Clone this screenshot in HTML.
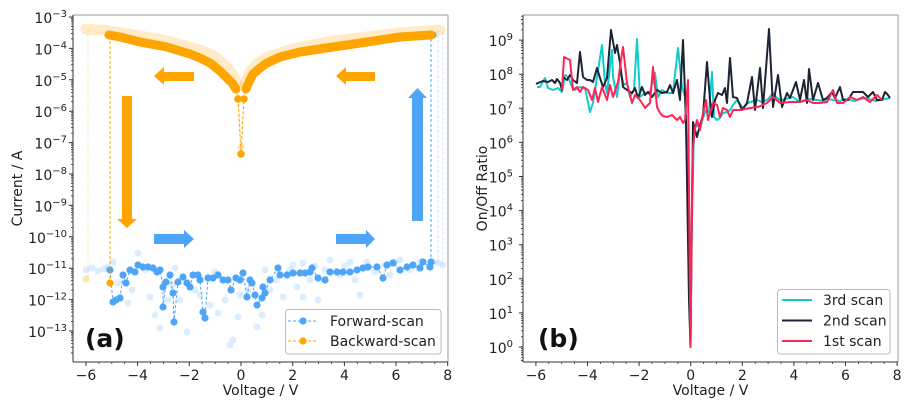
<!DOCTYPE html>
<html><head><meta charset="utf-8"><style>
html,body{margin:0;padding:0;background:#fff;}
svg{display:block;font-family:"DejaVu Sans","Liberation Sans",sans-serif;}
</style></head><body>
<svg width="916" height="406" viewBox="0 0 916 406" xmlns="http://www.w3.org/2000/svg">
<rect width="916" height="406" fill="#fff"/>

<!-- ================= LEFT PANEL ================= -->
<g>
<!-- light previous scans (orange) -->
<polyline points="86,29 110,31 140,36 167,41 200,50 215,57 225,65 232,74 237,84" fill="none" stroke="#FFA500" stroke-opacity="0.22" stroke-width="11" stroke-linejoin="round" stroke-linecap="round"/>
<polyline points="245,84 250,72 258,63 267,57 300,47 333,41 367,37 400,33 440,30" fill="none" stroke="#FFA500" stroke-opacity="0.22" stroke-width="11" stroke-linejoin="round" stroke-linecap="round"/>
<line x1="88" y1="29" x2="88" y2="279" stroke="#FFA500" stroke-opacity="0.3" stroke-width="1" stroke-dasharray="3,2"/>
<circle cx="86" cy="279" r="3.5" fill="#FFA500" fill-opacity="0.3"/>
<polyline points="238,90 241,147 244,90" fill="none" stroke="#FFA500" stroke-opacity="0.3" stroke-dasharray="3,2"/>
<circle cx="241" cy="147" r="3.5" fill="#FFA500" fill-opacity="0.3"/>
<!-- light blue verticals -->
<line x1="438" y1="263" x2="438" y2="30" stroke="#4ea5f8" stroke-opacity="0.3" stroke-dasharray="3,2"/>
<line x1="443" y1="265" x2="443" y2="31" stroke="#4ea5f8" stroke-opacity="0.25" stroke-dasharray="3,2"/>

<!-- light blue points -->
<g fill="#4ea5f8" fill-opacity="0.2">
<circle cx="86" cy="270" r="3.5"/><circle cx="92" cy="268" r="3.5"/><circle cx="98" cy="271" r="3.5"/><circle cx="104" cy="269" r="3.5"/><circle cx="108" cy="267" r="3.5"/>
<circle cx="113" cy="262" r="3.5"/><circle cx="138" cy="253" r="3.5"/><circle cx="118" cy="283" r="3.5"/><circle cx="128" cy="303" r="3.5"/><circle cx="132" cy="290" r="3.5"/>
<circle cx="150" cy="297" r="3.5"/><circle cx="155" cy="315" r="3.5"/><circle cx="160" cy="328" r="3.5"/><circle cx="168" cy="300" r="3.5"/><circle cx="172" cy="285" r="3.5"/>
<circle cx="180" cy="300" r="3.5"/><circle cx="187" cy="332" r="3.5"/><circle cx="195" cy="290" r="3.5"/><circle cx="200" cy="295" r="3.5"/><circle cx="210" cy="305" r="3.5"/>
<circle cx="218" cy="313" r="3.5"/><circle cx="225" cy="300" r="3.5"/><circle cx="230" cy="345" r="3.5"/><circle cx="233" cy="340" r="3.5"/><circle cx="238" cy="317" r="3.5"/>
<circle cx="240" cy="295" r="3.5"/><circle cx="248" cy="290" r="3.5"/><circle cx="257" cy="327" r="3.5"/><circle cx="262" cy="315" r="3.5"/><circle cx="270" cy="290" r="3.5"/>
<circle cx="276" cy="280" r="3.5"/><circle cx="283" cy="297" r="3.5"/><circle cx="290" cy="270" r="3.5"/><circle cx="293" cy="265" r="3.5"/><circle cx="297" cy="287" r="3.5"/>
<circle cx="303" cy="297" r="3.5"/><circle cx="303" cy="263" r="3.5"/><circle cx="310" cy="280" r="3.5"/><circle cx="318" cy="300" r="3.5"/><circle cx="320" cy="332" r="3.5"/>
<circle cx="325" cy="270" r="3.5"/><circle cx="330" cy="260" r="3.5"/><circle cx="340" cy="275" r="3.5"/><circle cx="350" cy="262" r="3.5"/><circle cx="355" cy="280" r="3.5"/>
<circle cx="360" cy="295" r="3.5"/><circle cx="367" cy="262" r="3.5"/><circle cx="375" cy="272" r="3.5"/><circle cx="385" cy="265" r="3.5"/><circle cx="390" cy="275" r="3.5"/>
<circle cx="400" cy="260" r="3.5"/><circle cx="410" cy="270" r="3.5"/><circle cx="420" cy="262" r="3.5"/><circle cx="433" cy="262" r="3.5"/><circle cx="438" cy="263" r="3.5"/><circle cx="443" cy="265" r="3.5"/>
<circle cx="145" cy="270" r="3.5"/><circle cx="175" cy="268" r="3.5"/><circle cx="215" cy="272" r="3.5"/><circle cx="265" cy="270" r="3.5"/><circle cx="315" cy="266" r="3.5"/><circle cx="345" cy="266" r="3.5"/><circle cx="395" cy="262" r="3.5"/>
</g>

<!-- forward scan (blue) -->
<polyline fill="none" stroke="#4ea5f8" stroke-width="1" stroke-dasharray="3,2" points="110,270 113,302 116,300 120,298 123,275 126,283 130,270 135,272 138,265 143,267 148,267 153,268 157,272 160,270 163,287 163,307 166,282 170,275 173,293 174,322 178,282 183,277 187,283 190,287 193,275 198,275 200,280 203,312 205,318 208,278 213,278 218,275 223,280 228,280 231,290 236,278 240,280 243,273 247,297 250,280 252,283 255,295 257,305 262,298 263,287 265,293 270,280 278,268 280,275 287,275 293,273 300,273 305,273 310,272 312,268 318,278 325,280 330,272 337,272 343,272 350,272 357,270 363,268 368,267 377,267 383,278 387,265 393,263 400,270 407,267 413,265 420,268 422,268 423,262 430,267 431,262"/>
<line x1="431" y1="262" x2="431" y2="36" stroke="#4ea5f8" stroke-width="1" stroke-dasharray="3,2"/>
<g fill="#4ea5f8">
<circle cx="110" cy="270" r="3.6"/><circle cx="113" cy="302" r="3.6"/><circle cx="116" cy="300" r="3.6"/><circle cx="120" cy="298" r="3.6"/><circle cx="123" cy="275" r="3.6"/><circle cx="126" cy="283" r="3.6"/><circle cx="130" cy="270" r="3.6"/><circle cx="135" cy="272" r="3.6"/><circle cx="138" cy="265" r="3.6"/><circle cx="143" cy="267" r="3.6"/><circle cx="148" cy="267" r="3.6"/><circle cx="153" cy="268" r="3.6"/><circle cx="157" cy="272" r="3.6"/><circle cx="160" cy="270" r="3.6"/><circle cx="163" cy="287" r="3.6"/><circle cx="163" cy="307" r="3.6"/><circle cx="166" cy="282" r="3.6"/><circle cx="170" cy="275" r="3.6"/><circle cx="173" cy="293" r="3.6"/><circle cx="174" cy="322" r="3.6"/><circle cx="178" cy="282" r="3.6"/><circle cx="183" cy="277" r="3.6"/><circle cx="187" cy="283" r="3.6"/><circle cx="190" cy="287" r="3.6"/><circle cx="193" cy="275" r="3.6"/><circle cx="198" cy="275" r="3.6"/><circle cx="200" cy="280" r="3.6"/><circle cx="203" cy="312" r="3.6"/><circle cx="205" cy="318" r="3.6"/><circle cx="208" cy="278" r="3.6"/><circle cx="213" cy="278" r="3.6"/><circle cx="218" cy="275" r="3.6"/><circle cx="223" cy="280" r="3.6"/><circle cx="228" cy="280" r="3.6"/><circle cx="231" cy="290" r="3.6"/><circle cx="236" cy="278" r="3.6"/><circle cx="240" cy="280" r="3.6"/><circle cx="243" cy="273" r="3.6"/><circle cx="247" cy="297" r="3.6"/><circle cx="250" cy="280" r="3.6"/><circle cx="252" cy="283" r="3.6"/><circle cx="255" cy="295" r="3.6"/><circle cx="257" cy="305" r="3.6"/><circle cx="262" cy="298" r="3.6"/><circle cx="263" cy="287" r="3.6"/><circle cx="265" cy="293" r="3.6"/><circle cx="270" cy="280" r="3.6"/><circle cx="278" cy="268" r="3.6"/><circle cx="280" cy="275" r="3.6"/><circle cx="287" cy="275" r="3.6"/><circle cx="293" cy="273" r="3.6"/><circle cx="300" cy="273" r="3.6"/><circle cx="305" cy="273" r="3.6"/><circle cx="310" cy="272" r="3.6"/><circle cx="312" cy="268" r="3.6"/><circle cx="318" cy="278" r="3.6"/><circle cx="325" cy="280" r="3.6"/><circle cx="330" cy="272" r="3.6"/><circle cx="337" cy="272" r="3.6"/><circle cx="343" cy="272" r="3.6"/><circle cx="350" cy="272" r="3.6"/><circle cx="357" cy="270" r="3.6"/><circle cx="363" cy="268" r="3.6"/><circle cx="368" cy="267" r="3.6"/><circle cx="377" cy="267" r="3.6"/><circle cx="383" cy="278" r="3.6"/><circle cx="387" cy="265" r="3.6"/><circle cx="393" cy="263" r="3.6"/><circle cx="400" cy="270" r="3.6"/><circle cx="407" cy="267" r="3.6"/><circle cx="413" cy="265" r="3.6"/><circle cx="420" cy="268" r="3.6"/><circle cx="423" cy="262" r="3.6"/><circle cx="430" cy="267" r="3.6"/><circle cx="431" cy="262" r="3.6"/>
<circle cx="433" cy="35" r="3.6"/>
</g>

<!-- backward scan (orange) -->
<line x1="110" y1="36" x2="110" y2="283" stroke="#FFA500" stroke-width="1" stroke-dasharray="3,2"/>
<circle cx="110" cy="283" r="3.6" fill="#FFA500"/>
<polyline points="109,35 120,37 140,42 167,47 190,54 200,58 210,63 220,71 227,78 232,83 236,89" fill="none" stroke="#FFA500" stroke-width="9" stroke-linejoin="round" stroke-linecap="round"/>
<polyline points="246,89 249,82 253,74 260,68 267,63 280,57 300,52 333,47 367,42 400,37 431,35" fill="none" stroke="#FFA500" stroke-width="9" stroke-linejoin="round" stroke-linecap="round"/>
<polyline points="236,89 238,99 241,154 244,99 246,89" fill="none" stroke="#FFA500" stroke-width="1" stroke-dasharray="3,2"/>
<g fill="#FFA500">
<circle cx="236" cy="89" r="3.8"/><circle cx="238" cy="99" r="3.8"/><circle cx="241" cy="154" r="3.8"/><circle cx="244" cy="99" r="3.8"/><circle cx="246" cy="89" r="3.8"/>
</g>

<!-- arrows -->
<polygon points="154,76 164,67 164,72 194,72 194,81 164,81 164,85" fill="#FFA500"/>
<polygon points="336,76 346,67 346,72 375,72 375,81 346,81 346,85" fill="#FFA500"/>
<polygon points="122,96 132,96 132,219 137,219 127,228 117,219 122,219" fill="#FFA500"/>
<polygon points="154,234 184,234 184,230 194,239 184,248 184,244 154,244" fill="#4ea5f8"/>
<polygon points="336,234 366,234 366,230 375,239 366,248 366,244 336,244" fill="#4ea5f8"/>
<polygon points="412,221 423,221 423,98 427,98 417.5,88 408,98 412,98" fill="#4ea5f8"/>

<!-- legend -->
<rect x="285.5" y="309.5" width="155.5" height="44.5" rx="3" fill="#fff" fill-opacity="0.9" stroke="#bbb" stroke-width="1"/>
<line x1="288" y1="321" x2="318" y2="321" stroke="#4ea5f8" stroke-width="1" stroke-dasharray="3,2"/>
<circle cx="303" cy="321" r="3.6" fill="#4ea5f8"/>
<line x1="288" y1="341" x2="318" y2="341" stroke="#FFA500" stroke-width="1" stroke-dasharray="3,2"/>
<circle cx="303" cy="341" r="3.6" fill="#FFA500"/>
<text x="330" y="326" font-size="14" fill="#222">Forward-scan</text>
<text x="330" y="346" font-size="14" fill="#222">Backward-scan</text>

<!-- (a) -->
<text x="85" y="347" font-size="25" font-weight="bold" fill="#111">(a)</text>

<!-- spines -->
<line x1="73" y1="15" x2="448" y2="15" stroke="#999" stroke-width="1"/>
<line x1="448" y1="15" x2="448" y2="362" stroke="#999" stroke-width="1"/>
<line x1="73" y1="15" x2="73" y2="362" stroke="#333" stroke-width="1"/>
<line x1="73" y1="362" x2="448" y2="362" stroke="#333" stroke-width="1"/>

<!-- y ticks -->
<path stroke="#333" stroke-width="1" d="M73 17h-4M73 48.4h-4M73 79.8h-4M73 111.2h-4M73 142.6h-4M73 174h-4M73 205.4h-4M73 236.8h-4M73 268.2h-4M73 299.6h-4M73 331h-4"/>
<path stroke="#333" stroke-width="0.8" d="M73 38.95h-2M73 33.42h-2M73 29.5h-2M73 26.45h-2M73 23.97h-2M73 21.87h-2M73 20.05h-2M73 18.44h-2
M73 70.35h-2M73 64.82h-2M73 60.9h-2M73 57.85h-2M73 55.37h-2M73 53.27h-2M73 51.45h-2M73 49.84h-2
M73 101.75h-2M73 96.22h-2M73 92.3h-2M73 89.25h-2M73 86.77h-2M73 84.67h-2M73 82.85h-2M73 81.24h-2
M73 133.15h-2M73 127.62h-2M73 123.7h-2M73 120.65h-2M73 118.17h-2M73 116.07h-2M73 114.25h-2M73 112.64h-2
M73 164.55h-2M73 159.02h-2M73 155.1h-2M73 152.05h-2M73 149.57h-2M73 147.47h-2M73 145.65h-2M73 144.04h-2
M73 195.95h-2M73 190.42h-2M73 186.5h-2M73 183.45h-2M73 180.97h-2M73 178.87h-2M73 177.05h-2M73 175.44h-2
M73 227.35h-2M73 221.82h-2M73 217.9h-2M73 214.85h-2M73 212.37h-2M73 210.27h-2M73 208.45h-2M73 206.84h-2
M73 258.75h-2M73 253.22h-2M73 249.3h-2M73 246.25h-2M73 243.77h-2M73 241.67h-2M73 239.85h-2M73 238.24h-2
M73 290.15h-2M73 284.62h-2M73 280.7h-2M73 277.65h-2M73 275.17h-2M73 273.07h-2M73 271.25h-2M73 269.64h-2
M73 321.55h-2M73 316.02h-2M73 312.1h-2M73 309.05h-2M73 306.57h-2M73 304.47h-2M73 302.65h-2M73 301.04h-2
M73 352.95h-2M73 347.42h-2M73 343.5h-2M73 340.45h-2M73 337.97h-2M73 335.87h-2M73 334.05h-2M73 332.44h-2"/>
<!-- x ticks -->
<path stroke="#333" stroke-width="1" d="M86 362v4M137.6 362v4M189.3 362v4M241 362v4M292.7 362v4M344.4 362v4M396 362v4M447.7 362v4"/>
<path stroke="#333" stroke-width="0.8" d="M98.9 362v2M111.8 362v2M124.7 362v2M150.6 362v2M163.5 362v2M176.4 362v2M202.2 362v2M215.2 362v2M228.1 362v2M253.9 362v2M266.8 362v2M279.8 362v2M305.6 362v2M318.5 362v2M331.4 362v2M357.3 362v2M370.2 362v2M383.1 362v2M409 362v2M421.9 362v2M434.8 362v2"/>

<!-- y tick labels -->
<g font-size="14" fill="#222" text-anchor="end">
<text x="67" y="23">10<tspan dy="-6" font-size="10">−3</tspan></text>
<text x="67" y="54.4">10<tspan dy="-6" font-size="10">−4</tspan></text>
<text x="67" y="85.8">10<tspan dy="-6" font-size="10">−5</tspan></text>
<text x="67" y="117.2">10<tspan dy="-6" font-size="10">−6</tspan></text>
<text x="67" y="148.6">10<tspan dy="-6" font-size="10">−7</tspan></text>
<text x="67" y="180">10<tspan dy="-6" font-size="10">−8</tspan></text>
<text x="67" y="211.4">10<tspan dy="-6" font-size="10">−9</tspan></text>
<text x="67" y="242.8">10<tspan dy="-6" font-size="10">−10</tspan></text>
<text x="67" y="274.2">10<tspan dy="-6" font-size="10">−11</tspan></text>
<text x="67" y="305.6">10<tspan dy="-6" font-size="10">−12</tspan></text>
<text x="67" y="337">10<tspan dy="-6" font-size="10">−13</tspan></text>
</g>
<!-- x tick labels -->
<g font-size="14" fill="#222" text-anchor="middle">
<text x="86" y="380">−6</text><text x="137.6" y="380">−4</text><text x="189.3" y="380">−2</text><text x="241" y="380">0</text><text x="292.7" y="380">2</text><text x="344.4" y="380">4</text><text x="396" y="380">6</text><text x="447.7" y="380">8</text>
</g>
<text x="260.5" y="395" font-size="14" fill="#222" text-anchor="middle">Voltage / V</text>
<text transform="translate(22,188.5) rotate(-90)" font-size="14" fill="#222" text-anchor="middle">Current / A</text>
</g>

<!-- ================= RIGHT PANEL ================= -->
<g>
<g fill="none" stroke-width="2" stroke-linejoin="round">
<polyline stroke="#10cccc" points="537,87 540,87 545,78 548,88 553,90 558,88 562,92 565,75 568,77 572,87 575,90 580,87 585,88 590,112 593,103 597,77 602,45 605,83 607,93 612,50 613,77 617,97 620,70 624,85 627,83 630,97 634,90 637,39 640,97 645,93 650,92 655,73 658,97 662,90 667,93 673,93 678,48 682,87 685,97 688,200 690.5,347 692,220 694,130 697,125 700,128 703,118 706,110 709,112 712,72 714,117 717,120 720,118 723,113 727,112 730,110 733,105 737,100 740,104 743,108 747,104 750,102 754,101 757,100 762,102 767,100 770,97 773,93 777,98 780,100 786,99 793,97 797,100 800,102 805,100 810,99 817,100 823,101 828,99 833,100 840,101 845,99 850,100 855,101 860,99 867,98 872,100 876,101 880,100 885,99 890,98"/>
<polyline stroke="#1d2433" points="536,84 538,83 543,81 548,82 552,80 555,83 557,79 560,83 562,90 563,77 567,80 570,75 573,80 577,83 580,52 583,77 587,80 590,80 593,82 597,68 600,78 603,87 607,78 611,30 615,53 617,45 620,63 623,87 627,90 632,93 635,88 638,98 642,87 645,95 648,92 652,97 657,90 662,93 667,92 670,85 673,93 677,80 680,100 683,40 686,120 689,300 690.5,347 692,200 693,122 697,137 700,125 703,115 707,62 710,100 712,117 715,100 718,93 722,95 725,88 727,103 730,58 733,97 737,98 742,110 747,103 752,77 755,110 760,68 763,108 769,29 773,107 778,75 782,107 787,93 790,98 796,82 800,100 804,80 807,103 809,69 813,100 818,83 823,100 827,98 832,92 835,98 840,87 843,100 848,100 853,92 858,92 863,92 868,97 873,92 877,100 882,100 885,92 888,95 890,98"/>
<polyline stroke="#ff2458" points="562,90 564,57 570,60 573,90 577,87 580,92 583,87 588,90 592,100 595,88 598,102 602,87 607,100 610,85 613,97 618,82 621,60 623,47 627,83 632,103 635,95 640,100 645,108 650,103 653,67 657,107 660,113 663,116 667,117 672,115 677,120 680,117 683,123 685,120 688,80 690.5,347 692.5,153 695,128 697,120 700,130 703,113 706,100 708,120 713,103 717,105 720,117 723,108 727,110 730,117 733,110 740,110 745,109 750,108 758,107 767,103 773,97 780,103 790,102 800,102 807,100 813,103 820,103 827,102 833,90 837,103 843,103 850,97 857,100 863,97 870,102 877,95 882,100"/>
</g>

<!-- legend -->
<rect x="777.5" y="289.5" width="112.5" height="64.5" rx="3" fill="#fff" fill-opacity="0.9" stroke="#bbb" stroke-width="1"/>
<line x1="782" y1="300" x2="812" y2="300" stroke="#10cccc" stroke-width="2"/>
<line x1="782" y1="320.5" x2="812" y2="320.5" stroke="#1d2433" stroke-width="2"/>
<line x1="782" y1="341" x2="812" y2="341" stroke="#ff2458" stroke-width="2"/>
<text x="823" y="305" font-size="14" fill="#222">3rd scan</text>
<text x="823" y="325.5" font-size="14" fill="#222">2nd scan</text>
<text x="823" y="346" font-size="14" fill="#222">1st scan</text>

<text x="538" y="347" font-size="25" font-weight="bold" fill="#111">(b)</text>

<!-- spines -->
<line x1="523" y1="15" x2="898" y2="15" stroke="#999" stroke-width="1"/>
<line x1="898" y1="15" x2="898" y2="362" stroke="#999" stroke-width="1"/>
<line x1="523" y1="15" x2="523" y2="362" stroke="#333" stroke-width="1"/>
<line x1="523" y1="362" x2="898" y2="362" stroke="#333" stroke-width="1"/>

<path stroke="#333" stroke-width="1" d="M523 347h-4M523 312.9h-4M523 278.8h-4M523 244.7h-4M523 210.6h-4M523 176.5h-4M523 142.4h-4M523 108.3h-4M523 74.2h-4M523 40.1h-4"/>
<path stroke="#333" stroke-width="0.8" d="M523 360.57h-2M523 357.26h-2M523 354.57h-2M523 352.28h-2M523 350.31h-2M523 348.57h-2
M523 336.74h-2M523 330.73h-2M523 326.47h-2M523 323.16h-2M523 320.47h-2M523 318.18h-2M523 316.21h-2M523 314.47h-2
M523 302.64h-2M523 296.63h-2M523 292.37h-2M523 289.06h-2M523 286.37h-2M523 284.08h-2M523 282.11h-2M523 280.37h-2
M523 268.54h-2M523 262.53h-2M523 258.27h-2M523 254.96h-2M523 252.27h-2M523 249.98h-2M523 248.01h-2M523 246.27h-2
M523 234.44h-2M523 228.43h-2M523 224.17h-2M523 220.86h-2M523 218.17h-2M523 215.88h-2M523 213.91h-2M523 212.17h-2
M523 200.34h-2M523 194.33h-2M523 190.07h-2M523 186.76h-2M523 184.07h-2M523 181.78h-2M523 179.81h-2M523 178.07h-2
M523 166.24h-2M523 160.23h-2M523 155.97h-2M523 152.66h-2M523 149.97h-2M523 147.68h-2M523 145.71h-2M523 143.97h-2
M523 132.14h-2M523 126.13h-2M523 121.87h-2M523 118.56h-2M523 115.87h-2M523 113.58h-2M523 111.61h-2M523 109.87h-2
M523 98.04h-2M523 92.03h-2M523 87.77h-2M523 84.46h-2M523 81.77h-2M523 79.48h-2M523 77.51h-2M523 75.77h-2
M523 63.94h-2M523 57.93h-2M523 53.67h-2M523 50.36h-2M523 47.67h-2M523 45.38h-2M523 43.41h-2M523 41.67h-2
M523 29.84h-2M523 23.83h-2M523 19.57h-2M523 16.26h-2"/>
<path stroke="#333" stroke-width="1" d="M535.9 362v4M587.5 362v4M639.1 362v4M690.7 362v4M742.3 362v4M793.9 362v4M845.5 362v4M897.1 362v4"/>
<path stroke="#333" stroke-width="0.8" d="M548.8 362v2M561.7 362v2M574.6 362v2M600.4 362v2M613.3 362v2M626.2 362v2M652 362v2M664.9 362v2M677.8 362v2M703.6 362v2M716.5 362v2M729.4 362v2M755.2 362v2M768.1 362v2M781 362v2M806.8 362v2M819.7 362v2M832.6 362v2M858.4 362v2M871.3 362v2M884.2 362v2"/>

<g font-size="14" fill="#222" text-anchor="end">
<text x="513" y="353">10<tspan dy="-6" font-size="10">0</tspan></text>
<text x="513" y="318.9">10<tspan dy="-6" font-size="10">1</tspan></text>
<text x="513" y="284.8">10<tspan dy="-6" font-size="10">2</tspan></text>
<text x="513" y="250.7">10<tspan dy="-6" font-size="10">3</tspan></text>
<text x="513" y="216.6">10<tspan dy="-6" font-size="10">4</tspan></text>
<text x="513" y="182.5">10<tspan dy="-6" font-size="10">5</tspan></text>
<text x="513" y="148.4">10<tspan dy="-6" font-size="10">6</tspan></text>
<text x="513" y="114.3">10<tspan dy="-6" font-size="10">7</tspan></text>
<text x="513" y="80.2">10<tspan dy="-6" font-size="10">8</tspan></text>
<text x="513" y="46.1">10<tspan dy="-6" font-size="10">9</tspan></text>
</g>
<g font-size="14" fill="#222" text-anchor="middle">
<text x="535.9" y="380">−6</text><text x="587.5" y="380">−4</text><text x="639.1" y="380">−2</text><text x="690.7" y="380">0</text><text x="742.3" y="380">2</text><text x="793.9" y="380">4</text><text x="845.5" y="380">6</text><text x="897.1" y="380">8</text>
</g>
<text x="710.5" y="395" font-size="14" fill="#222" text-anchor="middle">Voltage / V</text>
<text transform="translate(487,188.5) rotate(-90)" font-size="14" fill="#222" text-anchor="middle">On/Off Ratio</text>
</g>
</svg>
</body></html>
